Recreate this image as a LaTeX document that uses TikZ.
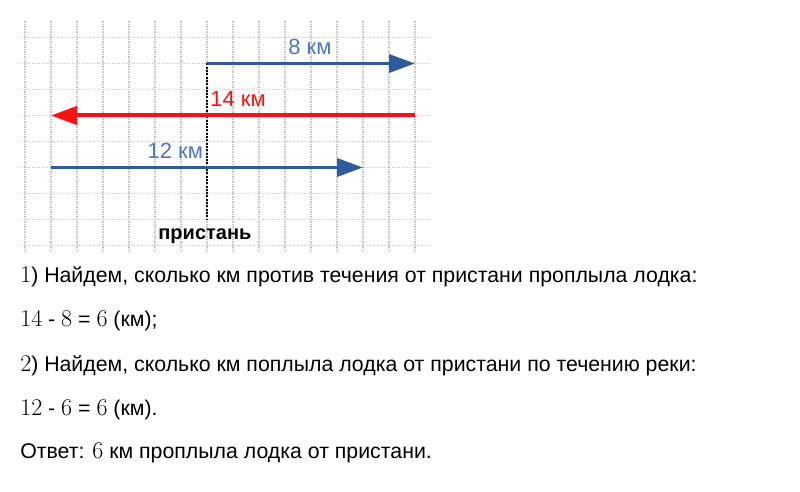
\documentclass[tikz,border=0pt]{standalone}
\usepackage{fontspec}
\setsansfont{Liberation Sans}
\usetikzlibrary{arrows.meta}
\definecolor{arrowblue}{HTML}{2F5A9E}
\definecolor{labelblue}{HTML}{4A78C0}
\definecolor{arrowred}{HTML}{FF1010}
\newcommand{\numrm}[1]{{\rmfamily\fontsize{24}{24}\selectfont #1}}
\tikzset{
  gridline/.style={gray!45,line width=1.1pt,dash pattern=on 1.4pt off 1.1pt},
  pier/.style={black,line width=2.2pt,dash pattern=on 2pt off 1.3pt},
  bluearrow/.style={arrowblue,line width=3.5pt,-{Triangle[length=26pt,width=18pt]}},
  redarrow/.style={arrowred,line width=4pt,-{Triangle[length=26pt,width=18pt]}},
  kmlabel/.style={font=\sffamily\fontsize{22}{22}\selectfont,inner sep=0pt},
  textline/.style={font=\sffamily\fontsize{21.3}{21.3}\selectfont,anchor=base west,inner sep=0pt}
}
\begin{document}
\begin{tikzpicture}[x=26pt,y=-26pt]
\useasboundingbox (-0.9615,-1.4423) rectangle (29.8077,17.4808);
% grid
\foreach \r in {0,...,8}
  \draw[gridline] (-0.23,\r) -- (15.58,\r);
\foreach \c in {0,...,15}
  \draw[gridline] (\c,-0.63) -- (\c,8.25);
\coordinate (A1) at (7,1);
\coordinate (B1) at (15,1);
\coordinate (A2) at (15,3);
\coordinate (B2) at (1,3);
\coordinate (A3) at (1,5);
\coordinate (B3) at (13,5);
\coordinate (P) at (7,7);
\draw[pier] (A1) -- (P);
\draw[bluearrow] (A1) -- (B1);
\draw[redarrow] (A2) -- (B2);
\draw[bluearrow] (A3) -- (B3);
\node[kmlabel,text=labelblue,anchor=base] (km8) at (10.96,0.67) {8 км};
\node[kmlabel,text=arrowred,anchor=base west] (km14) at (7.12,2.67) {14 км};
\node[kmlabel,text=labelblue,anchor=base east] (km12) at (6.85,4.67) {12 км};
\node[kmlabel,font=\sffamily\bfseries\fontsize{20}{20}\selectfont,anchor=base] (pierlbl) at (6.92,7.75) {пристань};
% solution
\node[textline] (t1) at (-0.19,9.44) {\numrm{1}) Найдем, сколько км против течения от пристани проплыла лодка:};
\node[textline] (t2) at (-0.19,11.13) {\numrm{14} - \numrm{8} = \numrm{6} (км);};
\node[textline] (t3) at (-0.19,12.83) {\numrm{2}) Найдем, сколько км поплыла лодка от пристани по течению реки:};
\node[textline] (t4) at (-0.19,14.52) {\numrm{12} - \numrm{6} = \numrm{6} (км).};
\node[textline] (t5) at (-0.19,16.21) {Ответ: \numrm{6} км проплыла лодка от пристани.};
\end{tikzpicture}
\end{document}
